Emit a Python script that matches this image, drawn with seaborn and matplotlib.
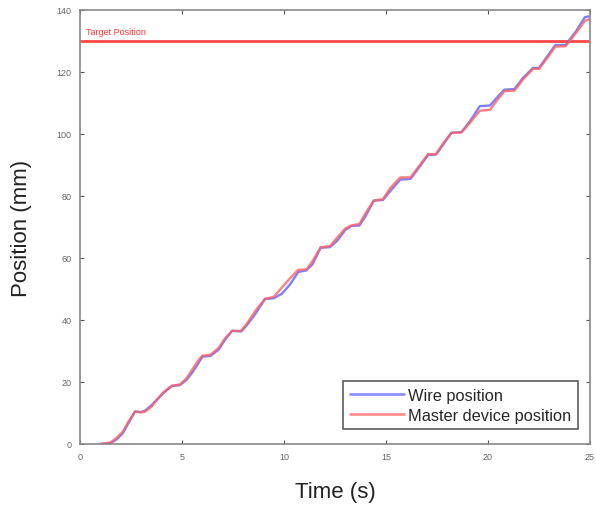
import numpy as np
import pandas as pd
import matplotlib
matplotlib.use("Agg")
import matplotlib.pyplot as plt
import seaborn as sns

# ---- data ----
wire_t = [1.0, 1.5, 1.8, 2.1, 2.4, 2.7, 3.0, 3.2, 3.5, 3.8, 4.1, 4.5, 4.9, 5.2, 5.5, 5.8,
          6.0, 6.4, 6.8, 7.1, 7.45, 7.9, 8.2, 8.6, 9.07, 9.5, 9.9, 10.3, 10.7, 11.1, 11.4,
          11.8, 12.25, 12.6, 13.0, 13.3, 13.7, 14.0, 14.4, 14.85, 15.2, 15.7, 16.2, 16.6,
          17.06, 17.45, 17.8, 18.2, 18.7, 19.1, 19.6, 20.1, 20.4, 20.8, 21.3, 21.7, 22.2,
          22.5, 22.9, 23.3, 23.8, 24.3, 24.75, 25.0]
wire_pos = [0, 0.3, 1.5, 3.5, 7, 10.5, 10.3, 10.8, 12.5, 14.5, 16.5, 18.7, 19.0, 20.5, 23, 26,
            28.2, 28.4, 30.5, 33.5, 36.5, 36.3, 38.5, 42, 46.8, 47, 48.5, 51.5, 55.5, 56, 58,
            63.3, 63.5, 65.5, 69, 70.3, 70.5, 73.5, 78.5, 78.7, 81.5, 85.3, 85.5, 89,
            93.2, 93.4, 96.5, 100.4, 100.6, 104, 109, 109.2, 111.5, 114.3, 114.5, 118, 121.3,
            121.3, 125, 128.7, 128.7, 133, 137.7, 138]

master_t = wire_t
master_pos = [0, 0.5, 2, 4, 7.5, 10.5, 10.2, 10.5, 12, 14.5, 16.8, 18.8, 19.2, 21, 24, 27,
              28.5, 28.8, 31, 34, 36.5, 36.5, 39, 43, 46.8, 47.5, 50.5, 53.5, 56.2, 56.3, 59,
              63.5, 63.8, 66.5, 69.5, 70.5, 71, 74.5, 78.5, 79, 82.5, 86, 86, 89.5,
              93.5, 93.5, 97, 100.3, 100.5, 103.5, 107.5, 107.8, 110.5, 113.8, 114, 117.5, 121,
              121, 124.5, 128.2, 128.3, 132.5, 136.5, 137]

series_names = ["Wire position", "Master device position"]
target_position = 130
x_ticks = [0, 5, 10, 15, 20, 25]
y_ticks = [0, 20, 40, 60, 80, 100, 120, 140]

df = pd.concat([
    pd.DataFrame({"Time": wire_t, "Position": wire_pos, "Series": series_names[0]}),
    pd.DataFrame({"Time": master_t, "Position": master_pos, "Series": series_names[1]}),
], ignore_index=True)

sns.set_style("white")
plt.rcParams["font.family"] = ["Liberation Sans", "DejaVu Sans"]

fig = plt.figure(figsize=(5.96, 5.06), dpi=100)
ax = fig.add_axes([80 / 596, 61 / 506, 510 / 596, 434 / 506])

palette = {series_names[0]: "#6060ff", series_names[1]: "#ff6060"}
sns.lineplot(data=df, x="Time", y="Position", hue="Series", palette=palette,
             linewidth=1.7, alpha=0.8, ax=ax, sort=False, estimator=None)

ax.axhline(target_position, color="#ff3333", linewidth=2.0, alpha=0.9, zorder=1)
ax.text(0.3, target_position + 1.6, "Target Position", color="#ff3333", fontsize=6.5,
        va="bottom", ha="left")

ax.set_xlim(0, 25)
ax.set_ylim(0, 140)
ax.set_xticks(x_ticks)
ax.set_yticks(y_ticks)
ax.tick_params(direction="in", length=3, width=0.8, color="#555555", labelsize=6.5,
               labelcolor="#666666", top=True, right=True, bottom=True, left=True, pad=6)
for s in ax.spines.values():
    s.set_color("#888888")
    s.set_linewidth(1.2)

ax.set_xlabel("Time (s)", fontsize=16, color="#222222", labelpad=14)
ax.set_ylabel("Position (mm)", fontsize=16, color="#222222", labelpad=18)

leg = ax.legend(loc="lower right", fontsize=11.8, frameon=True, fancybox=False,
                edgecolor="#333333", handlelength=3.3, borderpad=0.4, labelspacing=0.3,
                handletextpad=0.25, borderaxespad=0, bbox_to_anchor=(0.976, 0.034))
leg.get_frame().set_linewidth(1.2)
for line in leg.get_lines():
    line.set_linewidth(2.0)
    line.set_alpha(0.7)

fig.savefig("out.png", dpi=100)
